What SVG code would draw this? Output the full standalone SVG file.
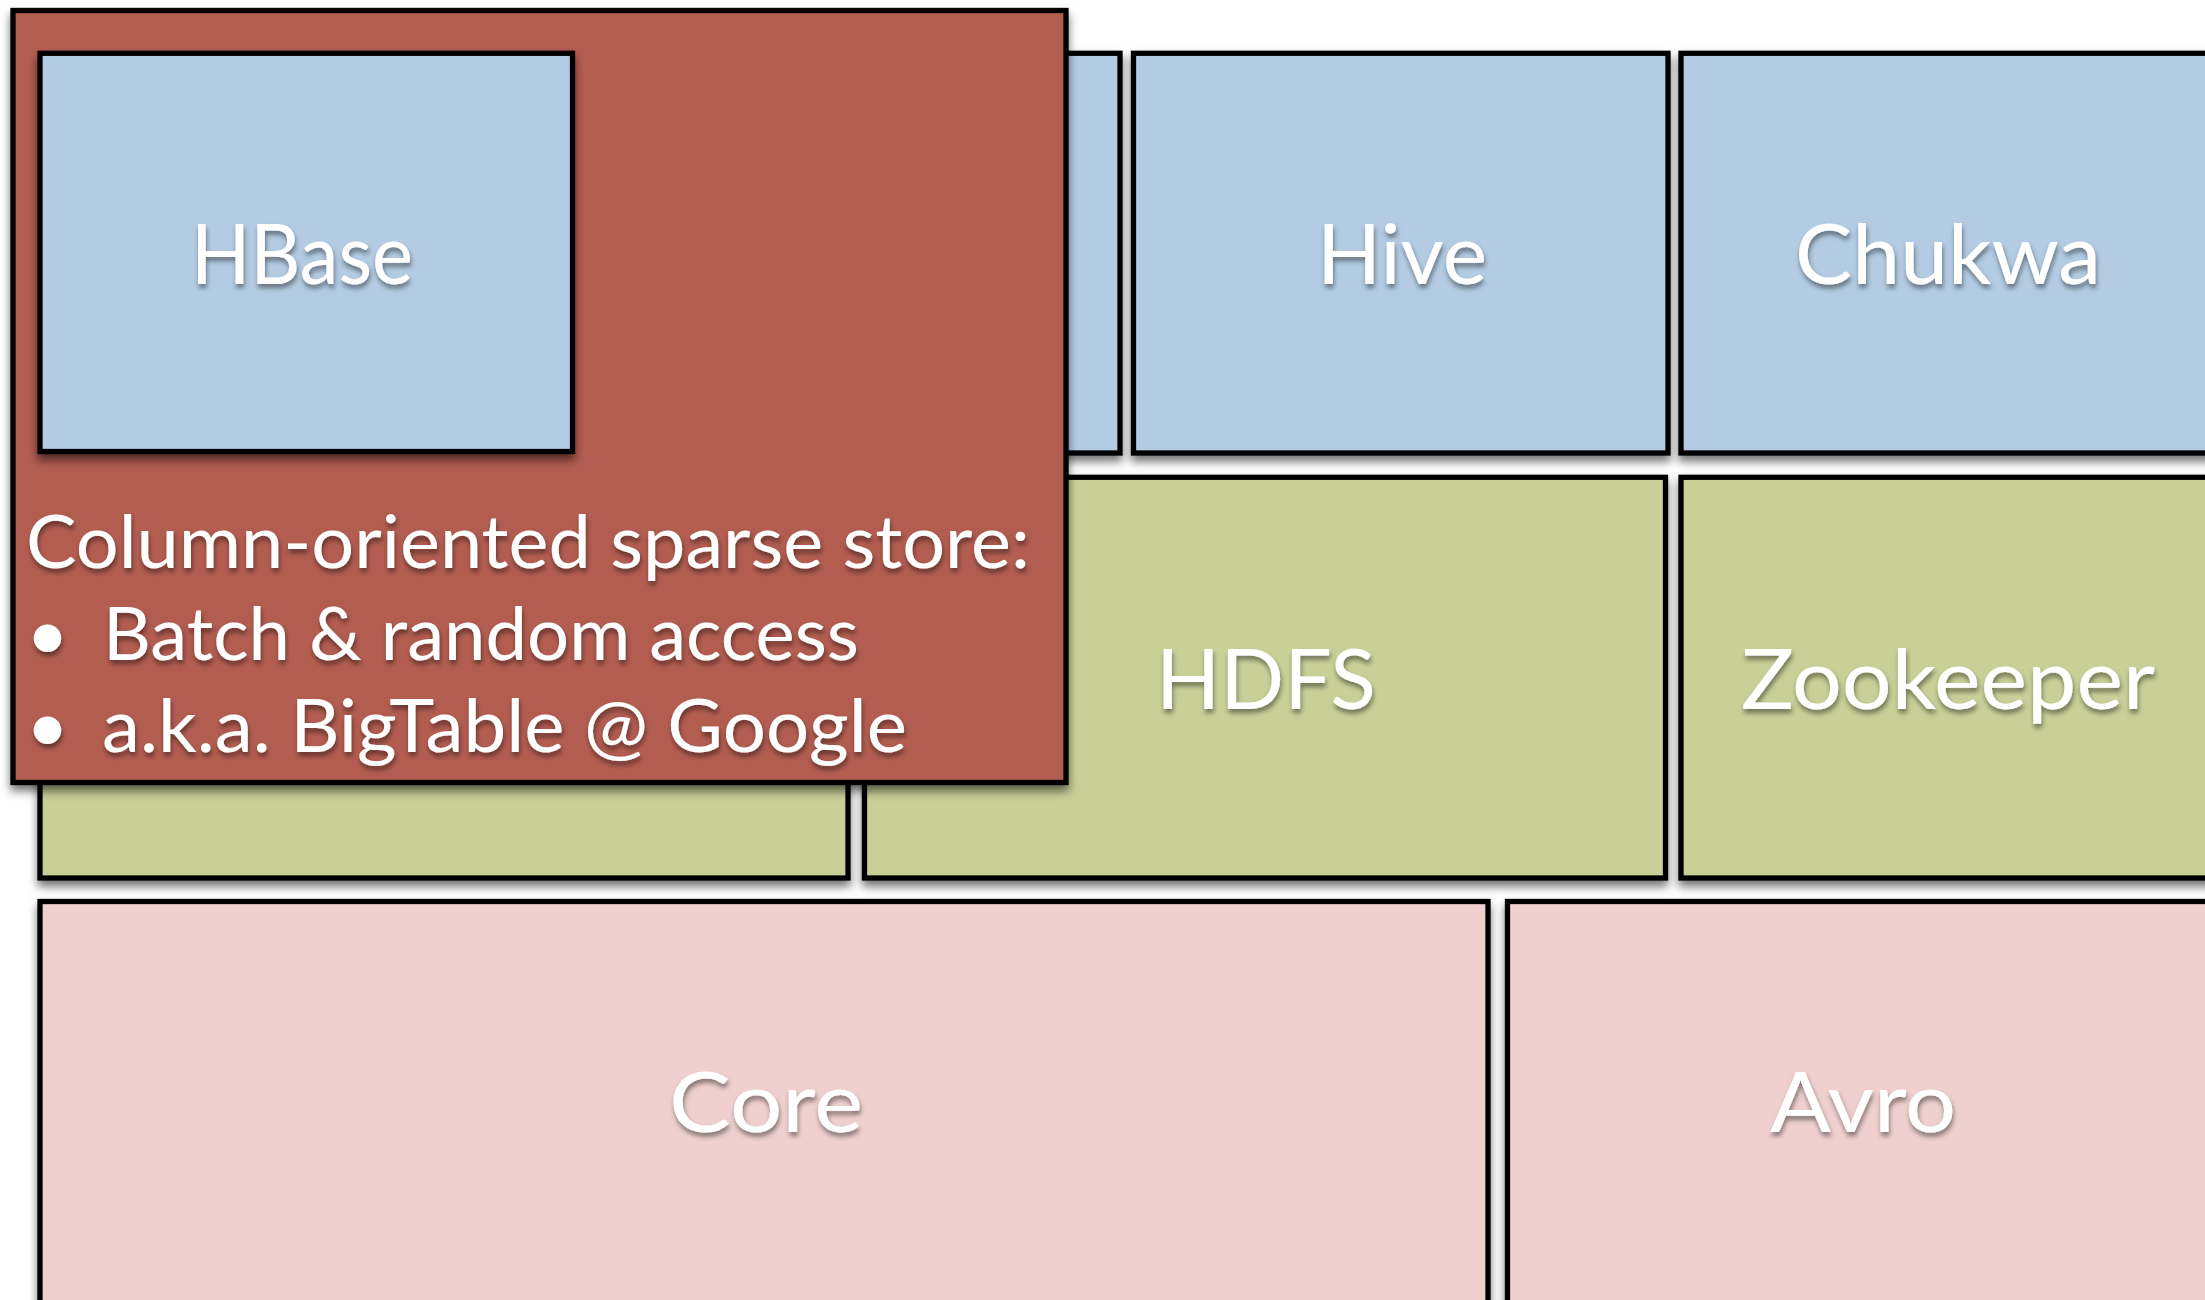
<svg xmlns="http://www.w3.org/2000/svg" width="2205" height="1300" viewBox="0 0 2205 1300">
<defs>
<filter id="sh" x="-10%" y="-10%" width="120%" height="120%">
<feDropShadow dx="0" dy="6" stdDeviation="5" flood-color="#000" flood-opacity="0.55"/>
</filter>
<filter id="tsh" x="-10%" y="-20%" width="120%" height="150%">
<feDropShadow dx="1" dy="4" stdDeviation="2.5" flood-color="#000" flood-opacity="0.45"/>
</filter>
</defs>
<style>
.box{stroke:#000;stroke-width:5.3;filter:url(#sh)}
.blue{fill:#B3CCE3}
.green{fill:#C8CF97}
.pink{fill:#EFD0CF}
.red{fill:#B35D51}
.lbl{font-family:Lato,"Open Sans","Liberation Sans",sans-serif;font-size:84px;fill:#fff;text-anchor:middle;filter:url(#tsh)}
.desc{font-family:Lato,"Open Sans","Liberation Sans",sans-serif;font-size:74px;fill:#fff;filter:url(#tsh)}
</style>
<rect width="2205" height="1300" fill="#fff"/>
<g id="row1">
<g id="hidden-blue"><rect class="box blue" x="590" y="53.3" width="530" height="399.7"/></g>
<g id="hive"><rect class="box blue" x="1133.5" y="53.3" width="534.5" height="399.7"/><text class="lbl" x="1402" y="284" textLength="170" lengthAdjust="spacingAndGlyphs">Hive</text></g>
<g id="chukwa"><rect class="box blue" x="1681" y="53.3" width="535" height="399.7"/><text class="lbl" x="1948" y="284" textLength="306" lengthAdjust="spacingAndGlyphs">Chukwa</text></g>
</g>
<g id="row2">
<g id="hidden-green"><rect class="box green" x="40" y="477.3" width="808" height="400.7"/></g>
<g id="hdfs"><rect class="box green" x="864.5" y="477.3" width="801" height="400.7"/><text class="lbl" x="1266" y="709" textLength="220" lengthAdjust="spacingAndGlyphs">HDFS</text></g>
<g id="zookeeper"><rect class="box green" x="1681" y="477.3" width="535" height="400.7"/><text class="lbl" x="1948" y="709" textLength="414" lengthAdjust="spacingAndGlyphs">Zookeeper</text></g>
</g>
<g id="row3">
<g id="core"><rect class="box pink" x="40" y="901.5" width="1448" height="402"/><text class="lbl" x="766" y="1132" textLength="194" lengthAdjust="spacingAndGlyphs">Core</text></g>
<g id="avro"><rect class="box pink" x="1507.5" y="901.5" width="715" height="402"/><text class="lbl" x="1863" y="1132" textLength="186" lengthAdjust="spacingAndGlyphs">Avro</text></g>
</g>
<g id="hbase-callout">
<rect class="box red" x="13" y="10.5" width="1053" height="772"/>
<text class="desc" x="26" y="568" textLength="1004" lengthAdjust="spacingAndGlyphs">Column-oriented sparse store:</text>
<text class="desc" x="26" y="660">•</text>
<text class="desc" x="103" y="660" textLength="756" lengthAdjust="spacingAndGlyphs">Batch &amp; random access</text>
<text class="desc" x="26" y="752">•</text>
<text class="desc" x="102" y="752" textLength="805" lengthAdjust="spacingAndGlyphs">a.k.a. BigTable @ Google</text>
</g>
<g id="hbase"><rect class="box blue" x="40" y="53.3" width="532.5" height="398.2"/><text class="lbl" x="302" y="284" textLength="222" lengthAdjust="spacingAndGlyphs">HBase</text></g>
<g id="connectors"/>
</svg>
